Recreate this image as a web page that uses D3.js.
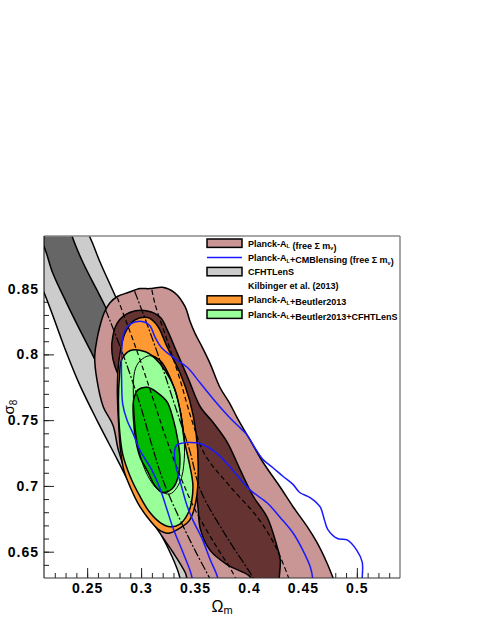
<!DOCTYPE html>
<html>
<head>
<meta charset="utf-8">
<title>sigma8 - Omega_m contours</title>
<style>
body { margin: 0; background: #fff; }
svg { display: block; font-family: "Liberation Sans", Arial, Helvetica, sans-serif; }
.ticklab text { font-weight: bold; font-size: 14px; letter-spacing: 1px; fill: #000; }
.legend text { font-weight: bold; font-size: 9px; fill: #000; }
</style>
</head>
<body>
<script src="https://cdn.jsdelivr.net/npm/d3@7/dist/d3.min.js"></script>
<script>

// axis ticks
var xMajor = [0.25, 0.30, 0.35, 0.40, 0.45, 0.50];
var xTickLabels = ["0.25", "0.3", "0.35", "0.4", "0.45", "0.5"];
var yMajor = [0.65, 0.70, 0.75, 0.80, 0.85];
var yTickLabels = ["0.65", "0.7", "0.75", "0.8", "0.85"];

// contours, [Omega_m, sigma_8]
// CFHTLenS 95% / 68%
var cfhtOuter = [[0.243,0.902],[0.252,0.890],[0.262,0.870],[0.268,0.859],[0.278,0.841],[0.294,0.811],[0.313,0.781],[0.331,0.750],[0.347,0.716],[0.359,0.682],[0.366,0.651],[0.369,0.621],[0.336,0.621],[0.336,0.630],[0.318,0.664],[0.299,0.687],[0.278,0.720],[0.259,0.750],[0.243,0.777],[0.231,0.801],[0.210,0.847],[0.197,0.870],[0.188,0.890],[0.183,0.902]];
var cfhtInner = [[0.232,0.902],[0.236,0.890],[0.246,0.870],[0.259,0.849],[0.267,0.836],[0.281,0.811],[0.294,0.784],[0.308,0.758],[0.322,0.727],[0.327,0.705],[0.318,0.697],[0.299,0.727],[0.281,0.758],[0.262,0.788],[0.253,0.803],[0.243,0.819],[0.231,0.839],[0.218,0.862],[0.210,0.882],[0.204,0.890],[0.200,0.902]];

// Planck-A_L (free sum m_nu) 95% / 68%
var planckOuter = [[0.266,0.832],[0.271,0.839],[0.278,0.844],[0.288,0.847],[0.299,0.850],[0.308,0.850],[0.320,0.851],[0.331,0.847],[0.341,0.836],[0.345,0.826],[0.350,0.816],[0.357,0.805],[0.364,0.793],[0.373,0.775],[0.382,0.763],[0.389,0.752],[0.401,0.735],[0.413,0.718],[0.429,0.699],[0.441,0.684],[0.454,0.669],[0.463,0.657],[0.472,0.642],[0.478,0.630],[0.482,0.621],[0.347,0.621],[0.341,0.634],[0.330,0.649],[0.320,0.661],[0.308,0.676],[0.297,0.692],[0.287,0.708],[0.279,0.727],[0.274,0.746],[0.265,0.760],[0.259,0.781],[0.257,0.798],[0.259,0.811],[0.262,0.822]];
var planckInner = [[0.274,0.796],[0.273,0.809],[0.278,0.824],[0.290,0.832],[0.306,0.833],[0.318,0.828],[0.324,0.819],[0.334,0.800],[0.344,0.781],[0.355,0.760],[0.367,0.748],[0.380,0.733],[0.392,0.712],[0.404,0.692],[0.417,0.676],[0.426,0.654],[0.429,0.644],[0.428,0.630],[0.427,0.621],[0.406,0.621],[0.401,0.631],[0.380,0.640],[0.364,0.651],[0.355,0.667],[0.352,0.689],[0.345,0.712],[0.327,0.735],[0.308,0.750],[0.290,0.769],[0.279,0.784]];

// Planck-A_L+Beutler2013 95% / 68%
var beutlerOuter = [[0.281,0.803],[0.285,0.816],[0.294,0.826],[0.306,0.828],[0.315,0.822],[0.324,0.806],[0.336,0.786],[0.345,0.765],[0.351,0.740],[0.353,0.714],[0.351,0.689],[0.345,0.674],[0.336,0.668],[0.325,0.664],[0.316,0.667],[0.306,0.676],[0.297,0.687],[0.290,0.699],[0.284,0.712],[0.281,0.727],[0.279,0.750],[0.278,0.773],[0.279,0.792]];
var beutlerInner = [[0.294,0.787],[0.299,0.795],[0.308,0.799],[0.318,0.795],[0.327,0.782],[0.334,0.765],[0.339,0.743],[0.340,0.720],[0.336,0.703],[0.327,0.694],[0.316,0.697],[0.306,0.708],[0.298,0.727],[0.294,0.750]];

// Planck-A_L+Beutler2013+CFHTLenS 95% / 68%
var combOuter = [[0.282,0.796],[0.290,0.803],[0.304,0.802],[0.313,0.797],[0.322,0.788],[0.331,0.774],[0.336,0.758],[0.340,0.735],[0.345,0.716],[0.348,0.701],[0.347,0.689],[0.344,0.680],[0.336,0.671],[0.327,0.669],[0.318,0.672],[0.308,0.680],[0.299,0.692],[0.290,0.707],[0.283,0.724],[0.280,0.743],[0.279,0.765],[0.280,0.784]];
var combInner = [[0.293,0.765],[0.297,0.773],[0.306,0.775],[0.315,0.771],[0.324,0.764],[0.330,0.750],[0.334,0.735],[0.336,0.720],[0.334,0.706],[0.329,0.698],[0.320,0.695],[0.313,0.700],[0.306,0.711],[0.299,0.722],[0.295,0.735],[0.293,0.750]];

// Planck-A_L+CMBlensing (open at the bottom of the frame)
var lensOuter = [[0.347,0.621],[0.347,0.631],[0.339,0.649],[0.330,0.667],[0.324,0.682],[0.318,0.697],[0.310,0.712],[0.299,0.727],[0.293,0.739],[0.287,0.750],[0.283,0.762],[0.282,0.778],[0.282,0.803],[0.284,0.816],[0.290,0.823],[0.301,0.825],[0.308,0.822],[0.313,0.813],[0.319,0.805],[0.331,0.797],[0.343,0.790],[0.355,0.778],[0.370,0.763],[0.382,0.752],[0.392,0.744],[0.398,0.739],[0.407,0.727],[0.413,0.720],[0.422,0.714],[0.432,0.707],[0.441,0.701],[0.447,0.695],[0.457,0.691],[0.466,0.684],[0.470,0.674],[0.473,0.667],[0.482,0.660],[0.491,0.659],[0.500,0.651],[0.505,0.642],[0.505,0.630],[0.505,0.621]];
var lensInner = [[0.371,0.621],[0.371,0.630],[0.364,0.644],[0.357,0.659],[0.348,0.674],[0.343,0.684],[0.337,0.701],[0.332,0.716],[0.331,0.726],[0.333,0.731],[0.343,0.733],[0.355,0.732],[0.370,0.725],[0.385,0.712],[0.401,0.697],[0.417,0.687],[0.429,0.676],[0.441,0.664],[0.450,0.651],[0.457,0.638],[0.459,0.630],[0.459,0.621]];

// Kilbinger et al. (2013)
var kilb1 = [[0.267,0.834],[0.271,0.826],[0.285,0.796],[0.299,0.762],[0.310,0.731],[0.320,0.705],[0.334,0.678],[0.350,0.651],[0.364,0.629],[0.366,0.625]];
var kilb2 = [[0.278,0.843],[0.296,0.803],[0.310,0.769],[0.322,0.739],[0.336,0.708],[0.350,0.682],[0.369,0.655],[0.385,0.634],[0.389,0.627]];
var kilb3 = [[0.294,0.848],[0.306,0.822],[0.319,0.792],[0.331,0.762],[0.345,0.727],[0.355,0.697],[0.378,0.663],[0.401,0.634],[0.406,0.627]];
var kilb4 = [[0.310,0.849],[0.313,0.838],[0.324,0.811],[0.336,0.781],[0.347,0.750],[0.359,0.724],[0.381,0.701],[0.408,0.676],[0.424,0.655],[0.435,0.634],[0.438,0.627]];

var legendLabels = ["Planck-A_{L} (free \u03A3 m_{\u03BD})", "Planck-A_{L}+CMBlensing (free \u03A3 m_{\u03BD})", "CFHTLenS", "Kilbinger et al. (2013)", "Planck-A_{L}+Beutler2013", "Planck-A_{L}+Beutler2013+CFHTLenS"];

// set the dimensions and margins of the graph
var margin = {top: 236, right: 80, bottom: 43, left: 44},
    width = 480 - margin.left - margin.right,
    height = 621 - margin.top - margin.bottom;

var x = d3.scaleLinear().domain([0.21, 0.54]).range([0, width]);
var y = d3.scaleLinear().domain([0.63, 0.89]).range([height, 0]);

var closedLine = d3.line()
    .x(function(d) { return x(d[0]); })
    .y(function(d) { return y(d[1]); })
    .curve(d3.curveCatmullRomClosed.alpha(0.5));

var openLine = d3.line()
    .x(function(d) { return x(d[0]); })
    .y(function(d) { return y(d[1]); })
    .curve(d3.curveCatmullRom.alpha(0.5));

var svg = d3.select("body").append("svg")
    .attr("width", width + margin.left + margin.right)
    .attr("height", height + margin.top + margin.bottom)
  .append("g")
    .attr("transform", "translate(" + margin.left + "," + margin.top + ")");

// minor ticks every 0.01
var xMinor = d3.range(22, 54).map(function(d) { return d / 100; });
var yMinor = d3.range(64, 89).map(function(d) { return d / 100; });

function noDomain(g) { g.select(".domain").remove(); g.selectAll("line").attr("stroke", "#222"); }

svg.append("g")
    .attr("transform", "translate(0," + height + ")")
    .call(d3.axisBottom(x).tickValues(xMinor).tickSize(-5).tickFormat(""))
    .call(noDomain);
svg.append("g").attr("class", "ticklab")
    .attr("transform", "translate(0," + height + ")")
    .call(d3.axisBottom(x).tickValues(xMajor).tickSize(-10).tickPadding(5)
        .tickFormat(function(d, i) { return xTickLabels[i]; }))
    .call(noDomain);

svg.append("g")
    .call(d3.axisLeft(y).tickValues(yMinor).tickSize(-5).tickFormat(""))
    .call(noDomain);
svg.append("g").attr("class", "ticklab")
    .call(d3.axisLeft(y).tickValues(yMajor).tickSize(-10).tickPadding(5)
        .tickFormat(function(d, i) { return yTickLabels[i]; }))
    .call(noDomain);

// contours, clipped to the frame
svg.append("clipPath").attr("id", "frame")
  .append("rect").attr("width", width).attr("height", height);

var plot = svg.append("g").attr("clip-path", "url(#frame)");

var filled = [
    [cfhtOuter, "#cccccc"], [cfhtInner, "#666666"],
    [planckOuter, "#c99595"], [planckInner, "#663333"],
    [beutlerOuter, "#ff9933"], [beutlerInner, "#cc6633"],
    [combOuter, "#99ff99"], [combInner, "#00bb00"]
];
filled.forEach(function(c) {
    plot.append("path")
        .datum(c[0])
        .attr("d", closedLine)
        .attr("fill", c[1])
        .attr("stroke", "#000")
        .attr("stroke-width", 1.5);
});

// inner Beutler outline shows through the combined contours
plot.append("path").datum(beutlerInner)
    .attr("d", closedLine).attr("fill", "none")
    .attr("stroke", "#000").attr("stroke-width", 1);

[kilb1, kilb2, kilb3, kilb4].forEach(function(k, i) {
    plot.append("path").datum(k)
        .attr("d", openLine)
        .attr("fill", "none")
        .attr("stroke", "#000")
        .attr("stroke-width", 1.2)
        .attr("stroke-dasharray", i % 2 ? "5,3" : "9,2,2,2");
});

[lensOuter, lensInner].forEach(function(l) {
    plot.append("path").datum(l)
        .attr("d", openLine)
        .attr("fill", "none")
        .attr("stroke", "#1a1aff")
        .attr("stroke-width", 1.5);
});

// frame
svg.append("line").attr("x1", 0).attr("x2", width).attr("y1", 0).attr("y2", 0)
    .attr("stroke", "#888").attr("stroke-width", 1.5);
svg.append("line").attr("x1", width).attr("x2", width).attr("y1", 0).attr("y2", height)
    .attr("stroke", "#888").attr("stroke-width", 1.5);
svg.append("line").attr("x1", 0).attr("x2", 0).attr("y1", 0).attr("y2", height)
    .attr("stroke", "#000").attr("stroke-width", 1);
svg.append("line").attr("x1", 0).attr("x2", width).attr("y1", height).attr("y2", height)
    .attr("stroke", "#333").attr("stroke-width", 1);

// axis titles
var xt = svg.append("text")
    .attr("x", width / 2).attr("y", height + 34)
    .attr("text-anchor", "middle")
    .style("font-size", "16px");
xt.append("tspan").text("\u03A9");
xt.append("tspan").attr("dy", 2).style("font-size", "11px").text("m");

var yt = svg.append("text")
    .attr("transform", "rotate(-90)")
    .attr("x", -height / 2).attr("y", -30)
    .attr("text-anchor", "middle")
    .style("font-size", "15px");
yt.append("tspan").text("\u03C3");
yt.append("tspan").attr("dy", 3).style("font-size", "10px").text("8");

// legend
var legendKind = ["fill", "line", "fill", "none", "fill", "fill"];
var legendColor = ["#c99595", "#1a1aff", "#cccccc", null, "#ff9933", "#99ff99"];
var legend = svg.append("g").attr("class", "legend")
    .attr("transform", "translate(163,7.2)");

legendLabels.forEach(function(lab, i) {
    var row = legend.append("g").attr("transform", "translate(0," + (i * 14.2) + ")");
    if (legendKind[i] === "fill") {
        row.append("rect").attr("x", 0).attr("y", -4.2).attr("width", 35).attr("height", 8.4)
            .attr("fill", legendColor[i]).attr("stroke", "#000").attr("stroke-width", 1.5);
    } else if (legendKind[i] === "line") {
        row.append("line").attr("x1", 0).attr("x2", 35).attr("y1", 0).attr("y2", 0)
            .attr("stroke", legendColor[i]).attr("stroke-width", 1.5);
    }
    var t = row.append("text").attr("x", 41).attr("y", 3.3);
    var parts = lab.split(/_\{([^}]*)\}/);
    parts.forEach(function(p, j) {
        if (!p) return;
        if (j % 2) {
            t.append("tspan").attr("dy", 2).style("font-size", "5.5px").text(p);
            t.append("tspan").attr("dy", -2).text("");
        } else {
            t.append("tspan").text(p);
        }
    });
});

</script>
</body>
</html>
